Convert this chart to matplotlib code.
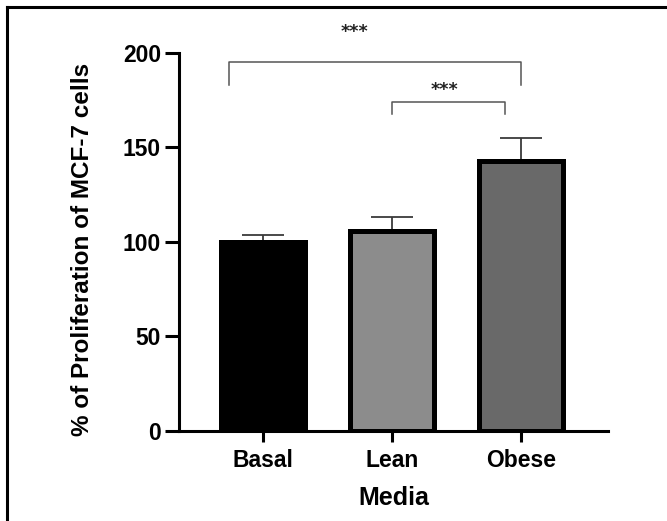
import numpy as np
import matplotlib.pyplot as plt
from matplotlib.lines import Line2D

plt.rcParams['font.family'] = ['Liberation Sans', 'DejaVu Sans']
plt.rcParams['font.weight'] = 'bold'

# dados
grupos = ['Basal', 'Lean', 'Obese']
media = [100, 105.5, 143]
erro = [3.5, 7.6, 12.1]
cores = ['#000000', '#8c8c8c', '#696969']

# comparações (x1, x2, altura, perna, texto_x, texto_y)
comp_x1 = [-0.26, 1.0]
comp_x2 = [2.0, 1.876]
comp_y = [195, 173.8]
comp_perna = [182.8, 167.6]
comp_tx = [0.71, 1.41]
comp_ty = [211, 180.5]

fig = plt.figure(figsize=(6.67, 5.21), dpi=100)
ax = fig.add_axes([0.2684, 0.1727, 0.6432, 0.7261])

x = np.arange(len(grupos))
ax.bar(x, media, width=0.65, color=cores, edgecolor='black', linewidth=3.6, zorder=2)
ax.errorbar(x, media, yerr=[np.zeros(3), erro], fmt='none', ecolor='#3a3a3a',
            elinewidth=1.3, capsize=15, capthick=1.3, zorder=1)

for x1, x2, y, p, tx, ty in zip(comp_x1, comp_x2, comp_y, comp_perna, comp_tx, comp_ty):
    ax.plot([x1, x1, x2, x2], [p, y, y, p], color='#555555', lw=1.1, clip_on=False)
    ax.text(tx, ty, '***', ha='center', va='center', fontsize=12.5, color='#222222',
            fontweight='bold', family='DejaVu Sans')

ax.set_xlim(-0.651, 2.674)
ax.set_ylim(0, 200)
ax.set_yticks([0, 50, 100, 150, 200])
ax.set_xticks(x)
ax.set_xticklabels(grupos)
ax.spines['top'].set_visible(False)
ax.spines['right'].set_visible(False)
ax.spines['left'].set_linewidth(2.2)
ax.spines['bottom'].set_linewidth(2.2)
ax.tick_params(axis='y', length=10, width=2.2, labelsize=16.5, pad=3)
ax.tick_params(axis='x', length=8, width=2.2, labelsize=16.5, pad=5)
ax.set_ylabel('% of Proliferation of MCF-7 cells', fontsize=17.5, fontweight='bold')
ax.yaxis.set_label_coords(-0.224, 0.48)
ax.set_xlabel('Media', fontsize=18, fontweight='bold')
ax.xaxis.set_label_coords(0.5, -0.177)
ax.xaxis.label.set_va('center')
ax.yaxis.label.set_va('center')

# moldura
fig.add_artist(Line2D([7/667, 7/667], [0, 1 - 7/521], color='black', lw=2.2, transform=fig.transFigure))
fig.add_artist(Line2D([7/667, 1], [1 - 7/521, 1 - 7/521], color='black', lw=2.2, transform=fig.transFigure))

fig.savefig('out.png', dpi=100)
